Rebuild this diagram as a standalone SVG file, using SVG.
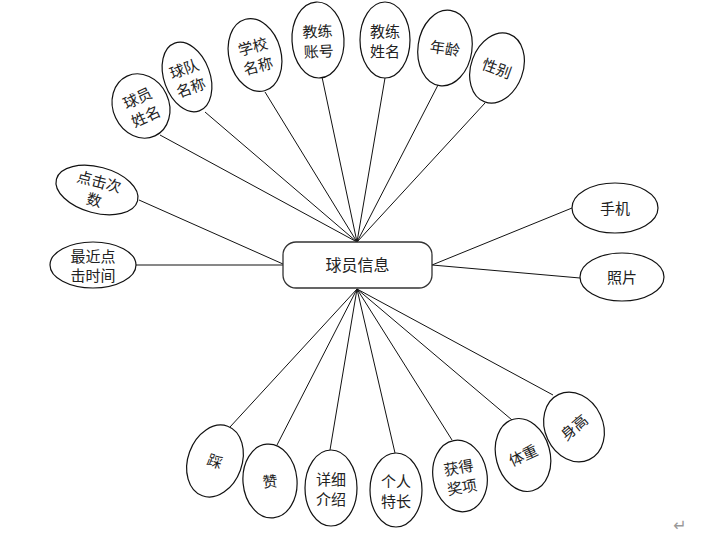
<svg xmlns="http://www.w3.org/2000/svg" width="723" height="534" viewBox="0 0 723 534">
<style>
.e{fill:#fff;stroke:#111;stroke-width:1.2}
.t{font-family:"Noto Sans CJK SC","Noto Sans",sans-serif;font-size:15px;fill:#222;text-anchor:middle}
.c line{stroke:#111;stroke-width:1}
</style>
<rect width="723" height="534" fill="#fff"/>
<g class="c" id="connectors">
<line x1="357" y1="242" x2="160" y2="135"/>
<line x1="357" y1="242" x2="205" y2="112"/>
<line x1="357" y1="242" x2="265" y2="92"/>
<line x1="357" y1="242" x2="322" y2="77"/>
<line x1="357" y1="242" x2="385" y2="78"/>
<line x1="357" y1="242" x2="438" y2="85"/>
<line x1="357" y1="242" x2="485" y2="103"/>
<line x1="283" y1="264" x2="139" y2="200"/>
<line x1="283" y1="265" x2="136" y2="265"/>
<line x1="432" y1="265" x2="572" y2="208"/>
<line x1="432" y1="265" x2="580" y2="278"/>
<line x1="357" y1="289" x2="230" y2="427"/>
<line x1="357" y1="289" x2="277" y2="445"/>
<line x1="357" y1="289" x2="330" y2="450"/>
<line x1="357" y1="289" x2="395" y2="453"/>
<line x1="357" y1="289" x2="452" y2="440"/>
<line x1="357" y1="289" x2="512" y2="420"/>
<line x1="357" y1="289" x2="553" y2="395"/>
</g>
<g id="center">
<rect x="283" y="242" width="149" height="46" rx="13" fill="#fff" stroke="#333" stroke-width="1.3"/>
<text x="357.5" y="271" class="t" style="font-size:16px">球员信息</text>
</g>
<g id="n1" transform="translate(141,106) rotate(-25)"><ellipse class="e" rx="28" ry="33"/><text class="t" y="-3">球员</text><text class="t" y="17">姓名</text></g>
<g id="n2" transform="translate(187,77) rotate(-20)"><ellipse class="e" rx="23" ry="36"/><text class="t" y="-3">球队</text><text class="t" y="17">名称</text></g>
<g id="n3" transform="translate(255,55) rotate(-15)"><ellipse class="e" rx="26" ry="37"/><text class="t" y="-3">学校</text><text class="t" y="17">名称</text></g>
<g id="n4" transform="translate(318,40) rotate(-3)"><ellipse class="e" rx="26" ry="38"/><text class="t" y="-3">教练</text><text class="t" y="17">账号</text></g>
<g id="n5" transform="translate(385,40)"><ellipse class="e" rx="25" ry="38"/><text class="t" y="-3">教练</text><text class="t" y="17">姓名</text></g>
<g id="n6" transform="translate(445,48) rotate(8)"><ellipse class="e" rx="27" ry="38"/><text class="t" y="6">年龄</text></g>
<g id="n7" transform="translate(497,68) rotate(20)"><ellipse class="e" rx="26" ry="36"/><text class="t" y="6">性别</text></g>
<g id="n8" transform="translate(97,190) rotate(15)"><ellipse class="e" rx="42" ry="23"/><text class="t" y="-3">点击次</text><text class="t" y="16">数</text></g>
<g id="n9" transform="translate(93,265)"><ellipse class="e" rx="43" ry="23"/><text class="t" y="-3">最近点</text><text class="t" y="16">击时间</text></g>
<g id="n10" transform="translate(615,208)"><ellipse class="e" rx="43" ry="25"/><text class="t" y="6">手机</text></g>
<g id="n11" transform="translate(622,277)"><ellipse class="e" rx="42" ry="24"/><text class="t" y="6">照片</text></g>
<g id="n12" transform="translate(215,461) rotate(20)"><ellipse class="e" rx="27" ry="37"/><text class="t" y="6">踩</text></g>
<g id="n13" transform="translate(270,481) rotate(-5)"><ellipse class="e" rx="27" ry="37"/><text class="t" y="6">赞</text></g>
<g id="n14" transform="translate(331,488)"><ellipse class="e" rx="26" ry="38"/><text class="t" y="-3">详细</text><text class="t" y="17">介绍</text></g>
<g id="n15" transform="translate(396,490)"><ellipse class="e" rx="26" ry="37"/><text class="t" y="-3">个人</text><text class="t" y="17">特长</text></g>
<g id="n16" transform="translate(460,476) rotate(-10)"><ellipse class="e" rx="27" ry="36"/><text class="t" y="-3">获得</text><text class="t" y="17">奖项</text></g>
<g id="n17" transform="translate(523,455) rotate(-15)"><ellipse class="e" rx="27" ry="37"/><text class="t" y="6" transform="rotate(-10)">体重</text></g>
<g id="n18" transform="translate(574,427) rotate(-25)"><ellipse class="e" rx="29" ry="36"/><text class="t" y="6" transform="rotate(-15)">身高</text></g>
<text x="680" y="531" style="font-family:'DejaVu Sans',sans-serif;font-size:16px;fill:#999;text-anchor:middle">↵</text>
</svg>
